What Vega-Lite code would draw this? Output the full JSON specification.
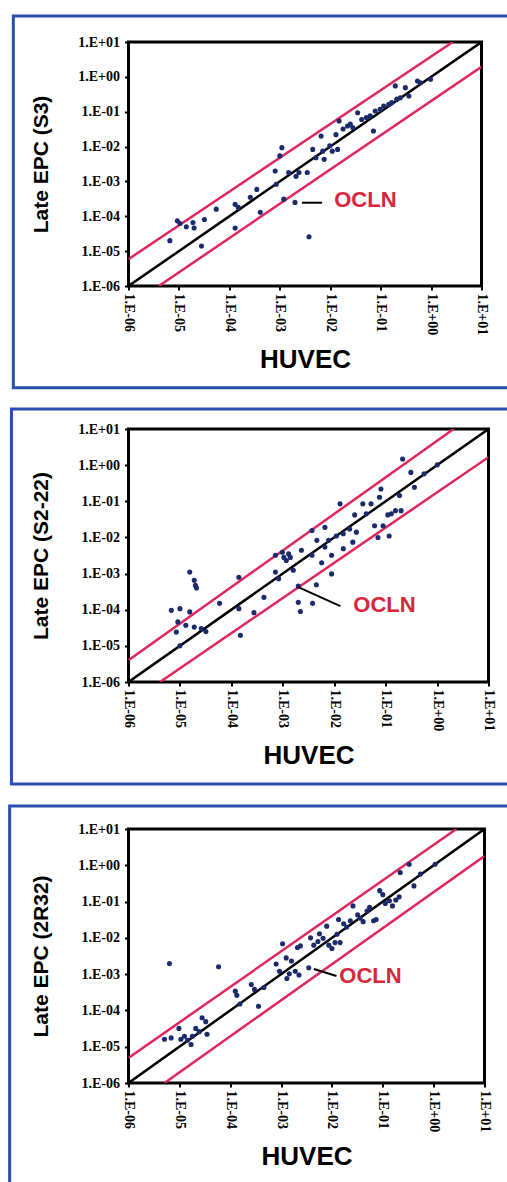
{
"$schema": "https://vega.github.io/schema/vega-lite/v6.json",
"background": "white",
"padding": {"left": 6.5, "top": 12, "right": 0, "bottom": 0},
"columns": 1,
"align": "none",
"spacing": 15,
"datasets": {
"pts": [
{"panel":1,"huvec":6.6e-6,"epc":2.0e-5},{"panel":1,"huvec":9.3e-6,"epc":7.4e-5},{"panel":1,"huvec":1.05e-5,"epc":6.2e-5},{"panel":1,"huvec":1.4e-5,"epc":5.0e-5},{"panel":1,"huvec":1.9e-5,"epc":6.6e-5},{"panel":1,"huvec":2.0e-5,"epc":4.6e-5},{"panel":1,"huvec":2.8e-5,"epc":1.4e-5},{"panel":1,"huvec":3.2e-5,"epc":8.1e-5},{"panel":1,"huvec":5.5e-5,"epc":1.6e-4},{"panel":1,"huvec":1.3e-4,"epc":2.2e-4},{"panel":1,"huvec":1.3e-4,"epc":4.6e-5},{"panel":1,"huvec":1.5e-4,"epc":1.8e-4},{"panel":1,"huvec":2.6e-4,"epc":3.5e-4},{"panel":1,"huvec":3.5e-4,"epc":5.9e-4},{"panel":1,"huvec":4.1e-4,"epc":1.3e-4},{"panel":1,"huvec":8.1e-4,"epc":2.0e-3},{"panel":1,"huvec":8.5e-4,"epc":8.3e-4},{"panel":1,"huvec":1.1e-3,"epc":9.3e-3},{"panel":1,"huvec":1.0e-3,"epc":5.4e-3},{"panel":1,"huvec":1.2e-3,"epc":3.1e-4},{"panel":1,"huvec":1.5e-3,"epc":1.8e-3},{"panel":1,"huvec":2.0e-3,"epc":2.5e-4},{"panel":1,"huvec":2.1e-3,"epc":1.4e-3},{"panel":1,"huvec":2.4e-3,"epc":1.8e-3},{"panel":1,"huvec":3.5e-3,"epc":1.8e-3},{"panel":1,"huvec":3.8e-3,"epc":2.6e-5},{"panel":1,"huvec":4.5e-3,"epc":8.3e-3},{"panel":1,"huvec":5.2e-3,"epc":4.8e-3},{"panel":1,"huvec":6.6e-3,"epc":2.0e-2},{"panel":1,"huvec":7.1e-3,"epc":7.4e-3},{"panel":1,"huvec":7.6e-3,"epc":4.3e-3},{"panel":1,"huvec":9.8e-3,"epc":1.05e-2},{"panel":1,"huvec":1.1e-2,"epc":7.4e-3},{"panel":1,"huvec":1.3e-2,"epc":2.2e-2},{"panel":1,"huvec":1.4e-2,"epc":8.3e-3},{"panel":1,"huvec":1.5e-2,"epc":5.4e-2},{"panel":1,"huvec":1.8e-2,"epc":3.2e-2},{"panel":1,"huvec":2.2e-2,"epc":3.9e-2},{"panel":1,"huvec":2.5e-2,"epc":4.4e-2},{"panel":1,"huvec":2.8e-2,"epc":3.5e-2},{"panel":1,"huvec":3.5e-2,"epc":9.3e-2},{"panel":1,"huvec":4.2e-2,"epc":6.0e-2},{"panel":1,"huvec":5.2e-2,"epc":6.8e-2},{"panel":1,"huvec":6.2e-2,"epc":7.6e-2},{"panel":1,"huvec":7.2e-2,"epc":2.8e-2},{"panel":1,"huvec":7.8e-2,"epc":0.105},{"panel":1,"huvec":9.8e-2,"epc":0.117},{"panel":1,"huvec":0.115,"epc":0.145},{"panel":1,"huvec":0.145,"epc":0.162},{"panel":1,"huvec":0.166,"epc":0.182},{"panel":1,"huvec":0.195,"epc":0.55},{"panel":1,"huvec":0.209,"epc":0.229},{"panel":1,"huvec":0.245,"epc":0.251},{"panel":1,"huvec":0.309,"epc":0.49},{"panel":1,"huvec":0.363,"epc":0.282},{"panel":1,"huvec":0.537,"epc":0.76},{"panel":1,"huvec":0.617,"epc":0.676},{"panel":1,"huvec":0.977,"epc":0.85},
{"panel":2,"huvec":6.8e-6,"epc":9.6e-5},{"panel":2,"huvec":1.0e-5,"epc":1.07e-4},{"panel":2,"huvec":9.1e-6,"epc":4.6e-5},{"panel":2,"huvec":8.5e-6,"epc":2.4e-5},{"panel":2,"huvec":1.3e-5,"epc":3.7e-5},{"panel":2,"huvec":1.55e-5,"epc":8.7e-5},{"panel":2,"huvec":1.55e-5,"epc":1.1e-3},{"panel":2,"huvec":1.9e-5,"epc":6.5e-4},{"panel":2,"huvec":2.0e-5,"epc":4.7e-4},{"panel":2,"huvec":2.1e-5,"epc":4.0e-4},{"panel":2,"huvec":1.9e-5,"epc":3.3e-5},{"panel":2,"huvec":2.6e-5,"epc":3.0e-5},{"panel":2,"huvec":3.2e-5,"epc":2.5e-5},{"panel":2,"huvec":1.0e-5,"epc":1.0e-5},{"panel":2,"huvec":5.9e-5,"epc":1.5e-4},{"panel":2,"huvec":1.4e-4,"epc":7.9e-4},{"panel":2,"huvec":1.4e-4,"epc":1.07e-4},{"panel":2,"huvec":1.5e-4,"epc":1.95e-5},{"panel":2,"huvec":2.75e-4,"epc":8.3e-5},{"panel":2,"huvec":4.3e-4,"epc":2.2e-4},{"panel":2,"huvec":7.2e-4,"epc":3.2e-3},{"panel":2,"huvec":7.2e-4,"epc":1.1e-3},{"panel":2,"huvec":8.3e-4,"epc":7.2e-4},{"panel":2,"huvec":9.8e-4,"epc":3.9e-3},{"panel":2,"huvec":1.05e-3,"epc":2.8e-3},{"panel":2,"huvec":1.17e-3,"epc":2.3e-3},{"panel":2,"huvec":1.3e-3,"epc":3.5e-3},{"panel":2,"huvec":1.4e-3,"epc":2.8e-3},{"panel":2,"huvec":1.6e-3,"epc":1.23e-3},{"panel":2,"huvec":2.0e-3,"epc":4.5e-4},{"panel":2,"huvec":2.0e-3,"epc":1.6e-4},{"panel":2,"huvec":2.2e-3,"epc":8.9e-5},{"panel":2,"huvec":2.3e-3,"epc":4.4e-3},{"panel":2,"huvec":3.7e-3,"epc":1.55e-2},{"panel":2,"huvec":3.7e-3,"epc":3.2e-3},{"panel":2,"huvec":3.8e-3,"epc":1.5e-4},{"panel":2,"huvec":4.5e-3,"epc":4.9e-4},{"panel":2,"huvec":4.6e-3,"epc":8.3e-3},{"panel":2,"huvec":5.7e-3,"epc":2.0e-3},{"panel":2,"huvec":6.6e-3,"epc":1.9e-2},{"panel":2,"huvec":6.6e-3,"epc":5.4e-3},{"panel":2,"huvec":7.8e-3,"epc":8.3e-3},{"panel":2,"huvec":8.9e-3,"epc":3.2e-3},{"panel":2,"huvec":8.9e-3,"epc":9.8e-4},{"panel":2,"huvec":1.1e-2,"epc":1.1e-2},{"panel":2,"huvec":1.3e-2,"epc":8.5e-2},{"panel":2,"huvec":1.5e-2,"epc":1.26e-2},{"panel":2,"huvec":1.5e-2,"epc":4.9e-3},{"panel":2,"huvec":2.0e-2,"epc":1.7e-2},{"panel":2,"huvec":2.3e-2,"epc":7.4e-3},{"panel":2,"huvec":2.5e-2,"epc":4.2e-2},{"panel":2,"huvec":2.7e-2,"epc":1.4e-2},{"panel":2,"huvec":3.6e-2,"epc":8.5e-2},{"panel":2,"huvec":4.2e-2,"epc":4.5e-2},{"panel":2,"huvec":5.2e-2,"epc":8.5e-2},{"panel":2,"huvec":6.1e-2,"epc":2.1e-2},{"panel":2,"huvec":7.1e-2,"epc":1.0e-2},{"panel":2,"huvec":7.6e-2,"epc":0.129},{"panel":2,"huvec":8.1e-2,"epc":0.219},{"panel":2,"huvec":8.9e-2,"epc":2.1e-2},{"panel":2,"huvec":0.11,"epc":4.2e-2},{"panel":2,"huvec":0.117,"epc":1.1e-2},{"panel":2,"huvec":0.129,"epc":4.5e-2},{"panel":2,"huvec":0.155,"epc":5.5e-2},{"panel":2,"huvec":0.186,"epc":0.145},{"panel":2,"huvec":0.2,"epc":5.5e-2},{"panel":2,"huvec":0.214,"epc":1.48},{"panel":2,"huvec":0.309,"epc":0.63},{"panel":2,"huvec":0.363,"epc":0.245},{"panel":2,"huvec":0.56,"epc":0.575},{"panel":2,"huvec":1.01,"epc":1.02},
{"panel":3,"huvec":6.4e-6,"epc":1.95e-3},{"panel":3,"huvec":5.9e-5,"epc":1.6e-3},{"panel":3,"huvec":5.1e-6,"epc":1.6e-5},{"panel":3,"huvec":6.9e-6,"epc":1.75e-5},{"panel":3,"huvec":9.8e-6,"epc":3.2e-5},{"panel":3,"huvec":1.07e-5,"epc":1.6e-5},{"panel":3,"huvec":1.26e-5,"epc":1.95e-5},{"panel":3,"huvec":1.45e-5,"epc":1.5e-5},{"panel":3,"huvec":1.7e-5,"epc":1.15e-5},{"panel":3,"huvec":1.8e-5,"epc":1.95e-5},{"panel":3,"huvec":2.1e-5,"epc":3.2e-5},{"panel":3,"huvec":2.45e-5,"epc":2.6e-5},{"panel":3,"huvec":2.8e-5,"epc":6.3e-5},{"panel":3,"huvec":3.3e-5,"epc":4.9e-5},{"panel":3,"huvec":3.5e-5,"epc":2.2e-5},{"panel":3,"huvec":1.26e-4,"epc":3.4e-4},{"panel":3,"huvec":1.35e-4,"epc":2.6e-4},{"panel":3,"huvec":1.55e-4,"epc":1.5e-4},{"panel":3,"huvec":2.6e-4,"epc":5.2e-4},{"panel":3,"huvec":3.0e-4,"epc":3.8e-4},{"panel":3,"huvec":3.6e-4,"epc":1.3e-4},{"panel":3,"huvec":4.6e-4,"epc":4.3e-4},{"panel":3,"huvec":8.0e-4,"epc":1.9e-3},{"panel":3,"huvec":9.3e-4,"epc":1.2e-3},{"panel":3,"huvec":1.07e-3,"epc":6.9e-3},{"panel":3,"huvec":1.26e-3,"epc":2.8e-3},{"panel":3,"huvec":1.3e-3,"epc":7.6e-4},{"panel":3,"huvec":1.45e-3,"epc":1.02e-3},{"panel":3,"huvec":1.6e-3,"epc":2.3e-3},{"panel":3,"huvec":1.9e-3,"epc":1.2e-3},{"panel":3,"huvec":2.1e-3,"epc":5.4e-3},{"panel":3,"huvec":2.25e-3,"epc":9.5e-4},{"panel":3,"huvec":2.4e-3,"epc":6.0e-3},{"panel":3,"huvec":3.5e-3,"epc":1.5e-3},{"panel":3,"huvec":3.8e-3,"epc":1.0e-2},{"panel":3,"huvec":4.4e-3,"epc":6.3e-3},{"panel":3,"huvec":5.3e-3,"epc":7.9e-3},{"panel":3,"huvec":5.7e-3,"epc":1.3e-2},{"panel":3,"huvec":6.7e-3,"epc":9.8e-3},{"panel":3,"huvec":7.9e-3,"epc":2.1e-2},{"panel":3,"huvec":8.7e-3,"epc":6.3e-3},{"panel":3,"huvec":1.0e-2,"epc":5.1e-3},{"panel":3,"huvec":1.15e-2,"epc":7.4e-3},{"panel":3,"huvec":1.26e-2,"epc":1.26e-2},{"panel":3,"huvec":1.35e-2,"epc":3.2e-2},{"panel":3,"huvec":1.45e-2,"epc":7.4e-3},{"panel":3,"huvec":1.7e-2,"epc":2.45e-2},{"panel":3,"huvec":1.95e-2,"epc":2.0e-2},{"panel":3,"huvec":2.3e-2,"epc":2.95e-2},{"panel":3,"huvec":2.6e-2,"epc":7.6e-2},{"panel":3,"huvec":3.2e-2,"epc":4.3e-2},{"panel":3,"huvec":3.6e-2,"epc":3.5e-2},{"panel":3,"huvec":4.1e-2,"epc":2.8e-2},{"panel":3,"huvec":4.9e-2,"epc":5.5e-2},{"panel":3,"huvec":5.5e-2,"epc":6.9e-2},{"panel":3,"huvec":6.6e-2,"epc":2.95e-2},{"panel":3,"huvec":7.4e-2,"epc":3.2e-2},{"panel":3,"huvec":8.7e-2,"epc":0.2},{"panel":3,"huvec":0.1,"epc":0.155},{"panel":3,"huvec":0.112,"epc":8.9e-2},{"panel":3,"huvec":0.135,"epc":0.105},{"panel":3,"huvec":0.155,"epc":7.6e-2},{"panel":3,"huvec":0.18,"epc":0.11},{"panel":3,"huvec":0.21,"epc":0.135},{"panel":3,"huvec":0.22,"epc":0.63},{"panel":3,"huvec":0.33,"epc":1.07},{"panel":3,"huvec":0.41,"epc":0.27},{"panel":3,"huvec":0.55,"epc":0.575},{"panel":3,"huvec":1.07,"epc":1.07}
],
"guides": [
{"panel":1,"line":"fit","huvec":1e-6,"epc":1e-6},{"panel":1,"line":"fit","huvec":10,"epc":10},
{"panel":1,"line":"upper","huvec":1e-6,"epc":5.9e-6},{"panel":1,"line":"upper","huvec":2.7,"epc":10},
{"panel":1,"line":"lower","huvec":4.0e-6,"epc":1e-6},{"panel":1,"line":"lower","huvec":10,"epc":1.95},
{"panel":2,"line":"fit","huvec":1e-6,"epc":1e-6},{"panel":2,"line":"fit","huvec":10,"epc":10},
{"panel":2,"line":"upper","huvec":1e-6,"epc":4.0e-6},{"panel":2,"line":"upper","huvec":2.1,"epc":10},
{"panel":2,"line":"lower","huvec":4.1e-6,"epc":1e-6},{"panel":2,"line":"lower","huvec":10,"epc":1.66},
{"panel":3,"line":"fit","huvec":1e-6,"epc":1e-6},{"panel":3,"line":"fit","huvec":10,"epc":10},
{"panel":3,"line":"upper","huvec":1e-6,"epc":4.9e-6},{"panel":3,"line":"upper","huvec":2.8,"epc":10},
{"panel":3,"line":"lower","huvec":5.1e-6,"epc":1e-6},{"panel":3,"line":"lower","huvec":10,"epc":1.8}
],
"pointers": [
{"panel":1,"huvec":2.75e-3,"epc":2.45e-4},{"panel":1,"huvec":6.9e-3,"epc":2.45e-4},
{"panel":2,"huvec":2.0e-3,"epc":4.2e-4},{"panel":2,"huvec":1.32e-2,"epc":1.26e-4},
{"panel":3,"huvec":4.4e-3,"epc":1.38e-3},{"panel":3,"huvec":1.23e-2,"epc":8.9e-4}
],
"notes": [
{"panel":1,"label":"OCLN","huvec":1.2e-2,"epc":2.95e-4},
{"panel":2,"label":"OCLN","huvec":2.35e-2,"epc":1.32e-4},
{"panel":3,"label":"OCLN","huvec":1.4e-2,"epc":8.9e-4}
]
},
"concat": [
{
"width": 353, "height": 244,
"encoding": {
"x": {"field": "huvec", "type": "quantitative", "title": "HUVEC", "scale": {"type": "log", "domain": [1e-6, 10], "nice": false}, "axis": {"values": [1e-6,1e-5,1e-4,1e-3,1e-2,1e-1,1,10], "labelExpr": "'1.E' + (datum.value < 1 ? '-' : '+') + '0' + abs(round(log(datum.value) / LN10))", "labelAngle": 90, "labelAlign": "left", "labelBaseline": "middle", "labelPadding": 3, "titleFontSize": 26, "titlePadding": 12}},
"y": {"field": "epc", "type": "quantitative", "title": "Late EPC (S3)", "scale": {"type": "log", "domain": [1e-6, 10], "nice": false}, "axis": {"values": [1e-6,1e-5,1e-4,1e-3,1e-2,1e-1,1,10], "labelExpr": "'1.E' + (datum.value < 1 ? '-' : '+') + '0' + abs(round(log(datum.value) / LN10))", "labelPadding": 5, "titleFontSize": 21, "titlePadding": 26}}
},
"layer": [
{"data": {"name": "notes"}, "transform": [{"filter": "datum.panel == 1"}], "mark": {"type": "rect", "fill": "transparent", "stroke": "#2b4fae", "strokeWidth": 3, "clip": false},
 "encoding": {"x": {"datum": 5.2e-9, "type": "quantitative"}, "x2": {"datum": 39}, "y": {"datum": 56, "type": "quantitative"}, "y2": {"datum": 1.2e-9}}},
{"data": {"name": "guides"}, "transform": [{"filter": "datum.panel == 1"}], "mark": {"type": "line", "strokeWidth": 2.5, "clip": true},
 "encoding": {"detail": {"field": "line"}, "color": {"field": "line", "type": "nominal", "scale": {"domain": ["fit","upper","lower"], "range": ["#000000","#e0265c","#e0265c"]}, "legend": null}}},
{"data": {"name": "pts"}, "transform": [{"filter": "datum.panel == 1"}], "mark": {"type": "circle", "size": 26, "opacity": 1, "color": "#1b2a6b"}},
{"data": {"name": "pointers"}, "transform": [{"filter": "datum.panel == 1"}], "mark": {"type": "line", "color": "#000000", "strokeWidth": 2}, "encoding": {}},
{"data": {"name": "notes"}, "transform": [{"filter": "datum.panel == 1"}], "mark": {"type": "text", "align": "left", "baseline": "middle", "font": "Liberation Sans", "fontWeight": "bold", "fontSize": 22, "color": "#d7263d"}, "encoding": {"text": {"field": "label"}}}
]
},
{
"width": 360, "height": 253,
"encoding": {
"x": {"field": "huvec", "type": "quantitative", "title": "HUVEC", "scale": {"type": "log", "domain": [1e-6, 10], "nice": false}, "axis": {"values": [1e-6,1e-5,1e-4,1e-3,1e-2,1e-1,1,10], "labelExpr": "'1.E' + (datum.value < 1 ? '-' : '+') + '0' + abs(round(log(datum.value) / LN10))", "labelAngle": 90, "labelAlign": "left", "labelBaseline": "middle", "labelPadding": 3, "titleFontSize": 26, "titlePadding": 12}},
"y": {"field": "epc", "type": "quantitative", "title": "Late EPC (S2-22)", "scale": {"type": "log", "domain": [1e-6, 10], "nice": false}, "axis": {"values": [1e-6,1e-5,1e-4,1e-3,1e-2,1e-1,1,10], "labelExpr": "'1.E' + (datum.value < 1 ? '-' : '+') + '0' + abs(round(log(datum.value) / LN10))", "labelPadding": 5, "titleFontSize": 21, "titlePadding": 26}}
},
"layer": [
{"data": {"name": "notes"}, "transform": [{"filter": "datum.panel == 2"}], "mark": {"type": "rect", "fill": "transparent", "stroke": "#2b4fae", "strokeWidth": 3, "clip": false},
 "encoding": {"x": {"datum": 5.3e-9, "type": "quantitative"}, "x2": {"datum": 28}, "y": {"datum": 35.6, "type": "quantitative"}, "y2": {"datum": 1.5e-9}}},
{"data": {"name": "guides"}, "transform": [{"filter": "datum.panel == 2"}], "mark": {"type": "line", "strokeWidth": 2.5, "clip": true},
 "encoding": {"detail": {"field": "line"}, "color": {"field": "line", "type": "nominal", "scale": {"domain": ["fit","upper","lower"], "range": ["#000000","#e0265c","#e0265c"]}, "legend": null}}},
{"data": {"name": "pts"}, "transform": [{"filter": "datum.panel == 2"}], "mark": {"type": "circle", "size": 26, "opacity": 1, "color": "#1b2a6b"}},
{"data": {"name": "pointers"}, "transform": [{"filter": "datum.panel == 2"}], "mark": {"type": "line", "color": "#000000", "strokeWidth": 2}, "encoding": {}},
{"data": {"name": "notes"}, "transform": [{"filter": "datum.panel == 2"}], "mark": {"type": "text", "align": "left", "baseline": "middle", "font": "Liberation Sans", "fontWeight": "bold", "fontSize": 22, "color": "#d7263d"}, "encoding": {"text": {"field": "label"}}}
]
},
{
"width": 356, "height": 254,
"encoding": {
"x": {"field": "huvec", "type": "quantitative", "title": "HUVEC", "scale": {"type": "log", "domain": [1e-6, 10], "nice": false}, "axis": {"values": [1e-6,1e-5,1e-4,1e-3,1e-2,1e-1,1,10], "labelExpr": "'1.E' + (datum.value < 1 ? '-' : '+') + '0' + abs(round(log(datum.value) / LN10))", "labelAngle": 90, "labelAlign": "left", "labelBaseline": "middle", "labelPadding": 3, "titleFontSize": 26, "titlePadding": 12}},
"y": {"field": "epc", "type": "quantitative", "title": "Late EPC (2R32)", "scale": {"type": "log", "domain": [1e-6, 10], "nice": false}, "axis": {"values": [1e-6,1e-5,1e-4,1e-3,1e-2,1e-1,1,10], "labelExpr": "'1.E' + (datum.value < 1 ? '-' : '+') + '0' + abs(round(log(datum.value) / LN10))", "labelPadding": 5, "titleFontSize": 21, "titlePadding": 26}}
},
"layer": [
{"data": {"name": "notes"}, "transform": [{"filter": "datum.panel == 3"}], "mark": {"type": "rect", "fill": "transparent", "stroke": "#2b4fae", "strokeWidth": 3, "clip": false},
 "encoding": {"x": {"datum": 4.6e-9, "type": "quantitative"}, "x2": {"datum": 34}, "y": {"datum": 43, "type": "quantitative"}, "y2": {"datum": 1.45e-9}}},
{"data": {"name": "guides"}, "transform": [{"filter": "datum.panel == 3"}], "mark": {"type": "line", "strokeWidth": 2.5, "clip": true},
 "encoding": {"detail": {"field": "line"}, "color": {"field": "line", "type": "nominal", "scale": {"domain": ["fit","upper","lower"], "range": ["#000000","#e0265c","#e0265c"]}, "legend": null}}},
{"data": {"name": "pts"}, "transform": [{"filter": "datum.panel == 3"}], "mark": {"type": "circle", "size": 26, "opacity": 1, "color": "#1b2a6b"}},
{"data": {"name": "pointers"}, "transform": [{"filter": "datum.panel == 3"}], "mark": {"type": "line", "color": "#000000", "strokeWidth": 2}, "encoding": {}},
{"data": {"name": "notes"}, "transform": [{"filter": "datum.panel == 3"}], "mark": {"type": "text", "align": "left", "baseline": "middle", "font": "Liberation Sans", "fontWeight": "bold", "fontSize": 22, "color": "#d7263d"}, "encoding": {"text": {"field": "label"}}}
]
}
],
"config": {
"view": {"stroke": "#000000", "strokeWidth": 3},
"axis": {"grid": false, "domain": false, "tickColor": "#000000", "tickWidth": 2, "tickSize": 4, "labelFont": "Liberation Serif", "labelFontWeight": "bold", "labelFontSize": 14, "labelColor": "#000000", "labelOverlap": false, "labelFlush": false, "titleFont": "Liberation Sans", "titleFontWeight": "bold", "titleColor": "#000000"}
}
}
